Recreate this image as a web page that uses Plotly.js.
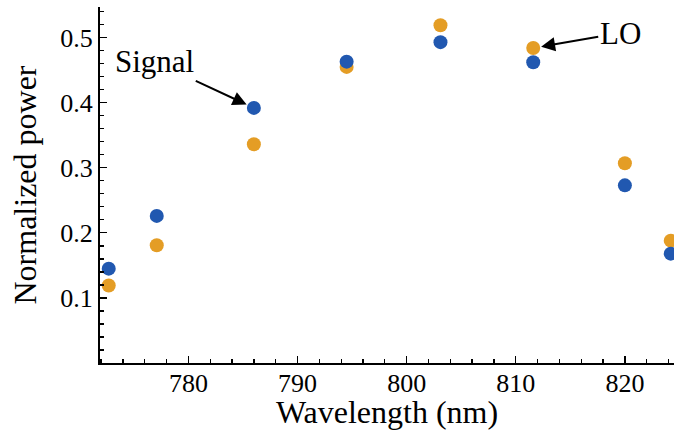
<!DOCTYPE html>
<html>
<head>
<meta charset="utf-8">
<script src="https://cdn.plot.ly/plotly-3.0.1.min.js"></script>
<style>html,body{margin:0;padding:0;background:#fff;}#chart{width:674px;height:430px;}</style>
</head>
<body>
<div id="chart"></div>
<script>
const wavelength = [772.7, 777.1, 786.0, 794.5, 803.1, 811.6, 820.0, 824.2];
const signalPower = [0.145, 0.226, 0.392, 0.463, 0.493, 0.462, 0.273, 0.168];
const loPower = [0.119, 0.181, 0.336, 0.455, 0.519, 0.484, 0.307, 0.188];
const xTicks = [780, 790, 800, 810, 820];
const yTicks = [0.1, 0.2, 0.3, 0.4, 0.5];

const FONT = 'Liberation Serif';
const blue = '#2158B0';
const orange = '#E49D25';

const traces = [
  {x: wavelength, y: loPower, type: 'scatter', mode: 'markers', name: 'LO',
   marker: {color: orange, size: 14, line: {width: 0}}, cliponaxis: false},
  {x: wavelength, y: signalPower, type: 'scatter', mode: 'markers', name: 'Signal',
   marker: {color: blue, size: 14, line: {width: 0}}, cliponaxis: false}
];

const layout = {
  width: 674, height: 430,
  margin: {l: 100, r: 0, t: 7, b: 67},
  paper_bgcolor: '#fff', plot_bgcolor: '#fff',
  showlegend: false,
  font: {family: FONT, color: '#000', size: 25},
  xaxis: {
    range: [771.9, 824.5],
    tickmode: 'array', tickvals: xTicks, ticktext: xTicks.map(String),
    ticks: 'inside', ticklen: 7, tickwidth: 1.3, tickcolor: '#000',
    minor: {dtick: 2, tick0: 0, ticks: 'inside', ticklen: 4, tickwidth: 1.3, tickcolor: '#000'},
    showline: true, linecolor: '#000', linewidth: 2,
    showgrid: false, zeroline: false,
    tickfont: {family: FONT, size: 26, color: '#000'},
    ticklabelstandoff: -4,
    title: {text: 'Wavelength (nm)', font: {family: FONT, size: 32, color: '#000'}, standoff: 0}
  },
  yaxis: {
    range: [0, 0.547],
    tickmode: 'array', tickvals: yTicks, ticktext: yTicks.map(v => v.toFixed(1)),
    ticks: 'inside', ticklen: 7, tickwidth: 1.3, tickcolor: '#000',
    minor: {dtick: 0.02, tick0: 0, ticks: 'inside', ticklen: 4, tickwidth: 1.3, tickcolor: '#000'},
    showline: true, linecolor: '#000', linewidth: 2,
    showgrid: false, zeroline: false,
    tickfont: {family: FONT, size: 26, color: '#000'},
    title: {text: 'Normalized power', font: {family: FONT, size: 32, color: '#000'}, standoff: 14}
  },
  annotations: [
    {x: wavelength[2], y: signalPower[2], xref: 'x', yref: 'y',
     text: 'Signal', showarrow: true, ax: -99, ay: -46,
     arrowhead: 2, arrowsize: 1.4, arrowwidth: 2, arrowcolor: '#000', standoff: 8,
     font: {family: FONT, size: 31, color: '#000'}},
    {x: wavelength[5], y: loPower[5], xref: 'x', yref: 'y',
     text: 'LO', showarrow: true, ax: 87, ay: -15,
     arrowhead: 2, arrowsize: 1.4, arrowwidth: 2, arrowcolor: '#000', standoff: 8,
     font: {family: FONT, size: 31, color: '#000'}}
  ]
};

Plotly.newPlot('chart', traces, layout, {staticPlot: true, displayModeBar: false});
</script>
</body>
</html>
